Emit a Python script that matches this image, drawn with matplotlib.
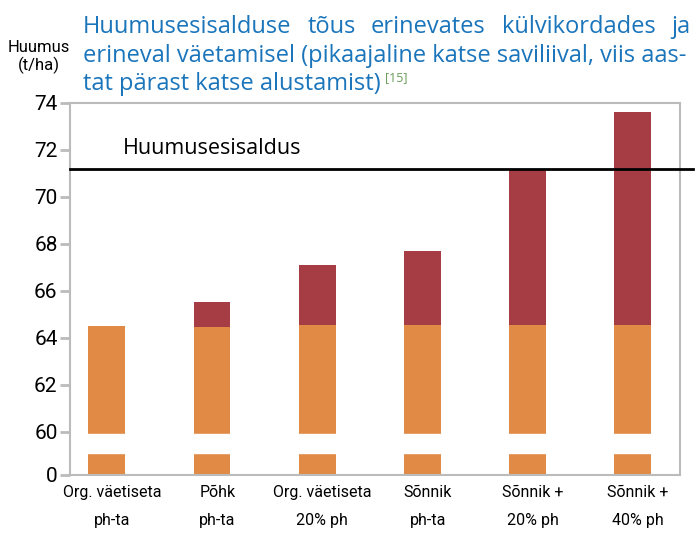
import numpy as np
import matplotlib
matplotlib.use("Agg")
import matplotlib.pyplot as plt

# andmed
kategooriad = ["Org. väetiseta\nph-ta", "Põhk\nph-ta", "Org. väetiseta\n20% ph",
               "Sõnnik\nph-ta", "Sõnnik +\n20% ph", "Sõnnik +\n40% ph"]
algne = [64.5, 64.45, 64.55, 64.55, 64.55, 64.55]
kokku = [64.5, 65.55, 67.1, 67.7, 71.2, 73.6]
huumusesisaldus = 71.2
y_tikid = [0, 60, 62, 64, 66, 68, 70, 72, 74]

oranz = "#E08A45"
punane = "#A63D44"
sinine = "#1B75BB"
hall = "#BBBBBB"
kitsas = ["Roboto", "DejaVu Sans"]
tavaline = ["Open Sans", "DejaVu Sans"]

# katkestatud telg: 0..60 kokku surutud
k = 1.83
def edasi(y):
    y = np.asarray(y, dtype=float)
    return np.where(y < 60, y * k / 60, k + y - 60)

def tagasi(s):
    s = np.asarray(s, dtype=float)
    return np.where(s < k, s * 60 / k, s - k + 60)

fig = plt.figure(figsize=(6.98, 5.37), dpi=100)
ax = fig.add_axes([70 / 698, 62 / 537, 610 / 698, 372 / 537])
ax.set_yscale("function", functions=(edasi, tagasi))

x = np.arange(len(kategooriad))
lisa = np.array(kokku) - np.array(algne)
ax.bar(x, algne, width=0.35, color=oranz, zorder=1)
ax.bar(x, lisa, bottom=algne, width=0.35, color=punane, zorder=1)
# telje katkestus
ax.axhspan(30.7, 57.6, color="white", zorder=1.5)

ax.set_xlim(-0.35, 5.45)
ax.set_ylim(0, 74)
ax.set_yticks(y_tikid)
ax.set_yticklabels([str(v) for v in y_tikid], family=kitsas, fontsize=15)
ax.set_xticks(x + 0.05)
ax.set_xticklabels(kategooriad, family=kitsas, fontsize=11.5, linespacing=2.1)
ax.tick_params(axis="x", length=0, pad=7)
ax.tick_params(axis="y", length=7, width=2, color=hall, pad=2)
for s in ax.spines.values():
    s.set_color(hall)
    s.set_linewidth(1.5)

ax.plot([-0.35, 5.57], [huumusesisaldus, huumusesisaldus], color="black",
        lw=2, clip_on=False, zorder=4)
ax.text(0.15, huumusesisaldus + 0.4, "Huumusesisaldus", family=tavaline,
        fontsize=15.5, va="bottom", ha="left")

fig.text(39 / 698, 1 - 57 / 537, "Huumus\n(t/ha)", family=kitsas, fontsize=12,
         ha="center", va="center", linespacing=1.2)

# pealkiri, esimene rida rööpjoondatud
vasak, parem = 83 / 698, 690 / 698
pealkiri_suurus = 17
sonad = "Huumusesisalduse tõus erinevates külvikordades ja".split()
fig.canvas.draw()
r = fig.canvas.get_renderer()
tekstid = [fig.text(vasak, 1 - 33 / 537, w, family=tavaline, fontsize=pealkiri_suurus,
                    color=sinine, va="baseline") for w in sonad]
laiused = [t.get_window_extent(r).width / fig.bbox.width for t in tekstid]
vahe = (parem - vasak - sum(laiused)) / (len(sonad) - 1)
pos = vasak
for t, w in zip(tekstid, laiused):
    t.set_x(pos)
    pos += w + vahe
fig.text(vasak, 1 - 62 / 537, "erineval väetamisel (pikaajaline katse saviliival, viis aas-",
         family=tavaline, fontsize=pealkiri_suurus, color=sinine, va="baseline")
t3 = fig.text(vasak, 1 - 90 / 537, "tat pärast katse alustamist)", family=tavaline,
              fontsize=pealkiri_suurus, color=sinine, va="baseline")
w3 = t3.get_window_extent(r).width / fig.bbox.width
fig.text(vasak + w3 + 0.006, 1 - 81 / 537, "[15]", family=tavaline, fontsize=9,
         color="#6A9E5A", va="baseline")

fig.savefig("out.png", dpi=100)
